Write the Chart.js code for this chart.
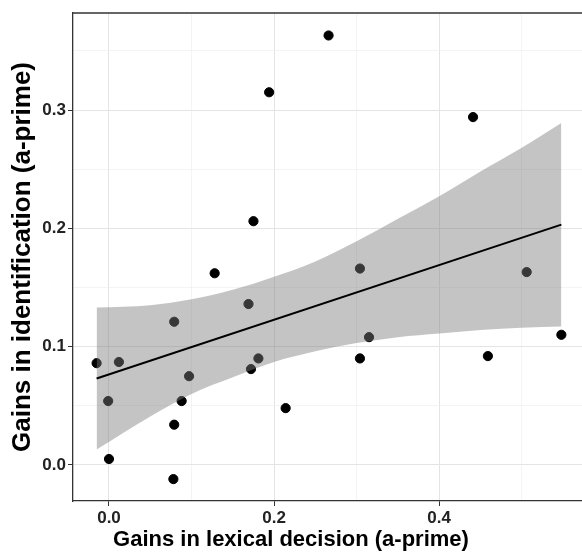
<!DOCTYPE html>
<html>
<head>
<meta charset="utf-8">
<script src="https://cdn.jsdelivr.net/npm/chart.js@4.4.1/dist/chart.umd.min.js"></script>
<style>
  body { margin: 0; background: #fff; }
  #wrap { width: 582px; height: 553px; }
</style>
</head>
<body>
<div id="wrap"><canvas id="scatter" width="582" height="553"></canvas></div>
<script>
// points
const ptX = [-0.015, 0.012, -0.001, 0.000, 0.079, 0.128, 0.097, 0.088, 0.079, 0.078, 0.175, 0.169,
             0.181, 0.172, 0.214, 0.304, 0.315, 0.304, 0.441, 0.506, 0.548, 0.459, 0.266, 0.194];
const ptY = [0.086, 0.087, 0.054, 0.005, 0.121, 0.162, 0.075, 0.054, 0.034, -0.012, 0.206, 0.136,
             0.090, 0.081, 0.048, 0.166, 0.108, 0.090, 0.294, 0.163, 0.110, 0.092, 0.363, 0.315];

// fitted line ends
const fitX = [-0.015, 0.548];
const fitY = [0.0731, 0.2031];

// confidence band, upper and lower edge
const bandX  = [-0.015, 0.05, 0.1, 0.15, 0.2, 0.25, 0.3, 0.35, 0.4, 0.45, 0.5, 0.548];
const bandHi = [0.133, 0.135, 0.140, 0.148, 0.159, 0.172, 0.189, 0.208, 0.227, 0.248, 0.268, 0.289];
const bandLo = [0.013, 0.041, 0.060, 0.074, 0.087, 0.096, 0.103, 0.108, 0.111, 0.114, 0.116, 0.117];

// axis ticks: labelled majors and unlabelled minor grid lines
const xTicks = [0, 0.1, 0.2, 0.3, 0.4, 0.5];
const xMajor = [0, 0.2, 0.4];
const yTicks = [0, 0.05, 0.1, 0.15, 0.2, 0.25, 0.3, 0.35];
const yMajor = [0, 0.1, 0.2, 0.3];

const xTitle = 'Gains in lexical decision (a-prime)';
const yTitle = 'Gains in identification (a-prime)';

function inList(list, v) {
    return list.some(m => Math.abs(m - v) < 1e-6);
}
function toXY(xs, ys) {
    return xs.map((x, i) => ({x: x, y: ys[i]}));
}
function gridFor(major) {
    const isMaj = ctx => ctx.tick && inList(major, ctx.tick.value);
    return {
        color: ctx => isMaj(ctx) ? '#e4e4e4' : '#efefef',
        lineWidth: ctx => isMaj(ctx) ? 1 : 0.7,
        tickColor: ctx => isMaj(ctx) ? '#333' : 'rgba(0,0,0,0)',
        tickLength: 5,
        drawTicks: true
    };
}
const tickFont = {family: 'Liberation Sans', size: 17, weight: 'bold'};

// top panel border + x title (sits left of the panel centre in the reference)
const extras = {
    id: 'extras',
    afterDraw(chart) {
        const c = chart.ctx, a = chart.chartArea;
        c.save();
        c.strokeStyle = '#333';
        c.lineWidth = 1.3;
        c.beginPath();
        c.moveTo(a.left, a.top);
        c.lineTo(a.right, a.top);
        c.stroke();
        c.fillStyle = '#000';
        c.font = 'bold 22px "Liberation Sans"';
        c.textAlign = 'center';
        c.textBaseline = 'middle';
        c.fillText(xTitle, 291, 540);
        c.restore();
    }
};

new Chart(document.getElementById('scatter'), {
    type: 'scatter',
    data: {
        datasets: [
            {
                type: 'line',
                data: toXY(fitX, fitY),
                borderColor: '#000',
                borderWidth: 2,
                pointRadius: 0,
                fill: false,
                order: 0
            },
            {
                type: 'line',
                data: toXY(bandX, bandHi),
                borderWidth: 0,
                borderColor: 'rgba(0,0,0,0)',
                backgroundColor: 'rgba(125,125,125,0.45)',
                pointRadius: 0,
                cubicInterpolationMode: 'monotone',
                fill: '+1',
                order: 1
            },
            {
                type: 'line',
                data: toXY(bandX, bandLo),
                borderWidth: 0,
                borderColor: 'rgba(0,0,0,0)',
                pointRadius: 0,
                cubicInterpolationMode: 'monotone',
                fill: false,
                order: 1
            },
            {
                data: toXY(ptX, ptY),
                backgroundColor: '#000',
                borderColor: '#000',
                pointRadius: 4.6,
                order: 2
            }
        ]
    },
    options: {
        responsive: false,
        animation: false,
        layout: {autoPadding: false, padding: {top: 13, right: 0, left: 0, bottom: 0}},
        plugins: {
            legend: {display: false},
            tooltip: {enabled: false}
        },
        scales: {
            x: {
                type: 'linear',
                min: -0.0436,
                max: 0.573,
                afterBuildTicks: s => { s.ticks = xTicks.map(v => ({value: v})); },
                afterFit: s => { s.height = 52; },
                grid: gridFor(xMajor),
                border: {display: true, color: '#333', width: 1.3},
                ticks: {
                    autoSkip: false,
                    maxRotation: 0,
                    padding: 2,
                    color: '#222',
                    font: tickFont,
                    callback: v => inList(xMajor, v) ? v.toFixed(1) : ''
                }
            },
            y: {
                min: -0.0305,
                max: 0.382,
                afterBuildTicks: s => { s.ticks = yTicks.map(v => ({value: v})); },
                afterFit: s => { s.width = 73; },
                grid: gridFor(yMajor),
                border: {display: true, color: '#333', width: 1.3},
                ticks: {
                    autoSkip: false,
                    padding: 2,
                    color: '#222',
                    font: tickFont,
                    callback: v => inList(yMajor, v) ? v.toFixed(1) : ''
                },
                title: {
                    display: true,
                    text: yTitle,
                    color: '#000',
                    padding: {top: 7, bottom: 0},
                    font: {family: 'Liberation Sans', size: 26, weight: 'bold'}
                }
            }
        }
    },
    plugins: [extras]
});
</script>
</body>
</html>
